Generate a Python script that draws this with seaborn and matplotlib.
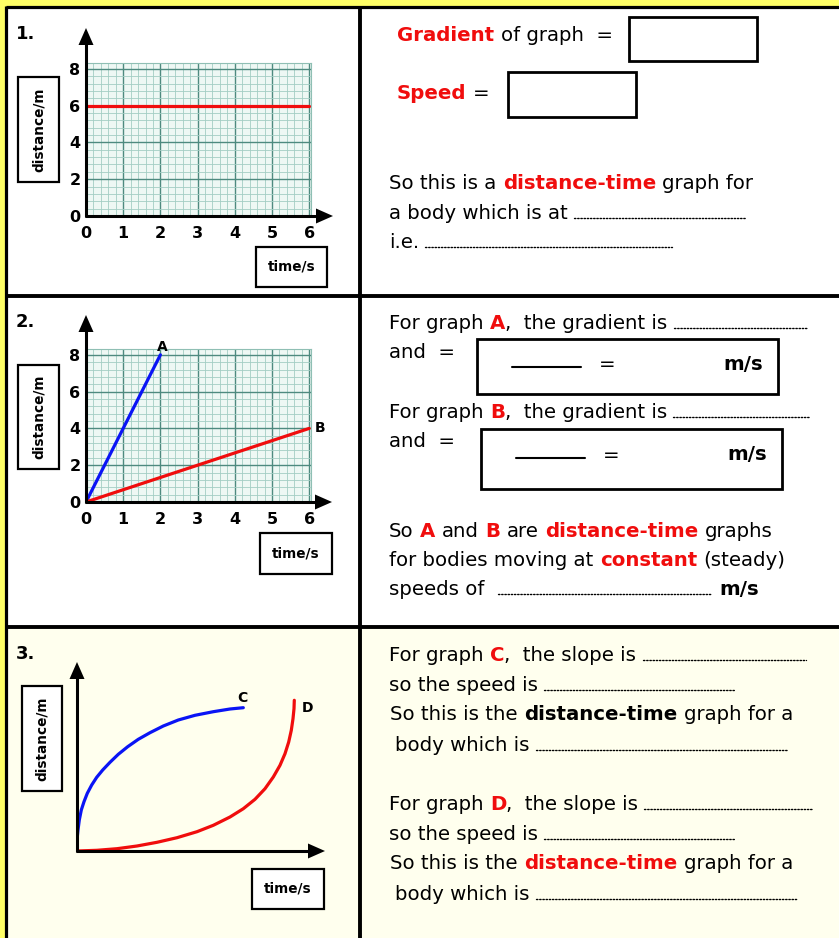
import matplotlib
matplotlib.use("Agg")
import matplotlib.pyplot as plt
import seaborn as sns
import numpy as np
from matplotlib.patches import Rectangle, Polygon

W, H = 839, 938

# ---- graph data -------------------------------------------------------
time_ticks = [0, 1, 2, 3, 4, 5, 6]
dist_ticks = [0, 2, 4, 6, 8]

# 1. stationary body
g1_time = [0, 6]
g1_dist = [6, 6]

# 2. two constant speeds
a_time = [0, 2]
a_dist = [0, 8]
b_time = [0, 6]
b_dist = [0, 4]

# 3. curved graphs (arbitrary units)
c_time = [0.0, 0.0, 0.1, 0.23, 0.43, 0.7, 1.03, 1.47, 1.97, 2.57, 3.3, 4.13, 5.07,
          6.13, 7.3, 8.63, 10.13, 11.8, 13.63, 15.3, 16.63]
c_dist = [0.0, 1.1, 2.1, 3.1, 4.1, 4.93, 5.77, 6.6, 7.37, 8.1, 8.87, 9.67, 10.43,
          11.17, 11.83, 12.5, 13.1, 13.57, 13.93, 14.2, 14.33]
d_time = [0.0, 2.0, 4.0, 6.0, 8.0, 10.0, 12.0, 13.63, 15.3, 16.63, 17.8, 18.8, 19.63,
          20.3, 20.8, 21.17, 21.43, 21.6, 21.7, 21.73]
d_dist = [0.0, 0.07, 0.23, 0.5, 0.87, 1.33, 1.93, 2.57, 3.4, 4.23, 5.17, 6.23, 7.4,
          8.57, 9.73, 10.9, 12.07, 13.23, 14.23, 15.07]

RED = "#F00D0D"
BLUE = "#0A14F5"
K = "black"

sns.set_style("white")
plt.rcParams["font.family"] = ["DejaVu Sans"]
plt.rcParams["text.color"] = K
plt.rcParams["xtick.color"] = K
plt.rcParams["ytick.color"] = K

fig = plt.figure(figsize=(W / 100, H / 100), dpi=100, facecolor="#FFFF66")
renderer = fig.canvas.get_renderer()

# background sheet in pixel coordinates
bg = fig.add_axes([0, 0, 1, 1])
bg.set_xlim(0, W)
bg.set_ylim(H, 0)
bg.axis("off")
bg.add_patch(Rectangle((6, 7), W + 20, H + 20, fc="white", ec="none", clip_on=False))
bg.add_patch(Rectangle((6, 627), W + 20, H, fc="#FFFFEE", ec="none", clip_on=False))


def paper_axes(ox, oy, sx, sy, xmax, ymax, paper=True):
    ax = fig.add_axes([ox / W, (H - oy) / H, xmax * sx / W, ymax * sy / H])
    ax.set_xlim(0, xmax)
    ax.set_ylim(0, ymax)
    if paper:
        ax.set_facecolor("#EEF8F4")
        ax.set_xticks(time_ticks)
        ax.set_xticklabels([str(t) for t in time_ticks], fontweight="bold", fontsize=11.5)
        ax.set_yticks(dist_ticks)
        ax.set_yticklabels([str(t) for t in dist_ticks], fontweight="bold", fontsize=11.5)
        ax.set_xticks(np.arange(0, xmax, 0.2), minor=True)
        ax.set_yticks(np.arange(0, ymax, 0.4), minor=True)
        ax.grid(which="major", color="#4E8A7F", lw=1.0)
        ax.grid(which="minor", color="#A3CEC4", lw=0.6)
        ax.tick_params(which="both", length=0, labelcolor=K)
        ax.tick_params(axis="x", pad=7)
        ax.tick_params(axis="y", pad=4)
        for s in ("left", "bottom"):
            ax.spines[s].set_visible(False)
        for s in ("top", "right"):
            ax.spines[s].set_color("#8FBFB4")
            ax.spines[s].set_linewidth(0.8)
    else:
        ax.axis("off")
    return ax


def line(ax, x, y, color):
    sns.lineplot(x=x, y=y, ax=ax, color=color, lw=2.3, sort=False, estimator=None,
                 solid_joinstyle="round", solid_capstyle="round")
    ax.set_xlabel("")
    ax.set_ylabel("")


# graph 1
ax1 = paper_axes(86, 216, 37.2, 18.4, 6.05, 8.3)
line(ax1, g1_time, g1_dist, RED)

# graph 2
ax2 = paper_axes(86, 502, 37.2, 18.4, 6.05, 8.3)
line(ax2, a_time, a_dist, BLUE)
line(ax2, b_time, b_dist, RED)
ax2.text(a_time[-1] + 0.05, a_dist[-1] + 0.05, "A", fontsize=10, fontweight="bold",
         ha="center", va="bottom", clip_on=False)
ax2.text(b_time[-1] + 0.15, b_dist[-1], "B", fontsize=10, fontweight="bold",
         ha="left", va="center", clip_on=False)

# graph 3
ax3 = paper_axes(77, 851, 10, 10, 23, 17, paper=False)
line(ax3, c_time, c_dist, BLUE)
line(ax3, d_time, d_dist, RED)
ax3.text(c_time[-1] - 0.1, c_dist[-1] + 0.3, "C", fontsize=10, fontweight="bold",
         ha="center", va="bottom")
ax3.text(d_time[-1] + 0.7, d_dist[-1] - 0.1, "D", fontsize=10, fontweight="bold",
         ha="left", va="top")

# overlay in pixel coordinates: table rules, arrows, boxes, text
top = fig.add_axes([0, 0, 1, 1])
top.set_xlim(0, W)
top.set_ylim(H, 0)
top.axis("off")

top.plot([6, W], [7.5, 7.5], color=K, lw=2.3, solid_capstyle="butt")
top.plot([6, 6], [6, H], color=K, lw=2.3, solid_capstyle="butt")
top.plot([360, 360], [6, H], color=K, lw=2.8, solid_capstyle="butt")
top.plot([6, W], [296, 296], color=K, lw=2.8, solid_capstyle="butt")
top.plot([6, W], [627, 627], color=K, lw=2.8, solid_capstyle="butt")


def axis_arrows(ox, oy, ytip, xtip):
    top.plot([ox, ox], [oy + 1.5, ytip + 14], color=K, lw=2.2, solid_capstyle="butt")
    top.plot([ox - 1.5, xtip - 14], [oy, oy], color=K, lw=2.2, solid_capstyle="butt")
    top.add_patch(Polygon([[ox, ytip], [ox - 7.5, ytip + 17], [ox + 7.5, ytip + 17]],
                          closed=True, fc=K, ec="none"))
    top.add_patch(Polygon([[xtip, oy], [xtip - 17, oy - 7.5], [xtip - 17, oy + 7.5]],
                          closed=True, fc=K, ec="none"))


axis_arrows(86, 216, 28, 333)
axis_arrows(86, 502, 315, 332)
axis_arrows(77, 851, 662, 325)


def label_box(x0, y0, x1, y1, txt, vertical=False):
    top.add_patch(Rectangle((x0, y0), x1 - x0, y1 - y0, fc="white", ec=K, lw=1.6))
    top.text((x0 + x1) / 2, (y0 + y1) / 2, txt, fontsize=9.8, fontweight="bold",
             color=K, ha="center", va="center", rotation=90 if vertical else 0)


label_box(18, 77, 59, 182, "distance/m", vertical=True)
label_box(256, 247, 327, 287, "time/s")
label_box(18, 365, 59, 469, "distance/m", vertical=True)
label_box(260, 533, 332, 574, "time/s")
label_box(22, 686, 62, 791, "distance/m", vertical=True)
label_box(252, 869, 324, 909, "time/s")

for num, y in (("1.", 34), ("2.", 322), ("3.", 654)):
    top.text(16, y, num, fontsize=13, fontweight="bold", color=K, ha="left", va="center")

FS = 14.2
SPACE = 6.5


def run(x, y, parts, size=FS):
    """Write coloured word runs one after another along a baseline."""
    for i, (txt, col, bold) in enumerate(parts):
        if i > 0 and not txt.startswith(","):
            x += SPACE
        t = top.text(x, y, txt, color=col, fontsize=size,
                     fontweight="bold" if bold else "normal", ha="left", va="baseline")
        x += t.get_window_extent(renderer).width
    return x


def dots(x0, x1, y):
    top.plot([x0, x1], [y - 1, y - 1], color=K, lw=1.0,
             linestyle=(0, (1, 1.3)), dash_capstyle="round")


def box(x0, y0, x1, y1, lw=2.0):
    top.add_patch(Rectangle((x0, y0), x1 - x0, y1 - y0, fc="white", ec=K, lw=lw))


# ---- section 1 ----
run(397, 41, [("Gradient", RED, True), ("of graph  =", K, False)])
box(629, 17, 757, 61)
run(397, 99, [("Speed", RED, True), ("=", K, False)])
box(508, 72, 636, 117)
run(389, 189, [("So this is a", K, False), ("distance-time", RED, True), ("graph for", K, False)])
x = run(389, 219, [("a body which is at", K, False)])
dots(x + 6, 746, 219)
x = run(389, 248, [("i.e.", K, False)])
dots(x + 6, 672, 248)

# ---- section 2 ----
for letter, yb, yand, (bx0, by0, bx1, by1), end in (
        ("A", 329, 358, (477, 339, 778, 394), 807),
        ("B", 418, 447, (481, 429, 782, 489), 810)):
    x = run(389, yb, [("For graph", K, False), (letter, RED, True), (",  the gradient is", K, False)])
    dots(x + 6, end, yb)
    run(389, yand, [("and  =", K, False)])
    box(bx0, by0, bx1, by1)
    ym = (by0 + by1) / 2 - 2 if letter == "A" else (by0 + by1) / 2 - 4
    top.plot([bx0 + 35, bx0 + 104], [ym + 3, ym + 3], color=K, lw=1.5)
    top.text(bx0 + 130, ym, "=", fontsize=FS, color=K, ha="center", va="center")
    top.text(bx1 - 15, ym, "m/s", fontsize=FS, fontweight="bold", color=K,
             ha="right", va="center")

run(389, 537, [("So", K, False), ("A", RED, True), ("and", K, False), ("B", RED, True),
               ("are", K, False), ("distance-time", RED, True), ("graphs", K, False)])
run(389, 566, [("for bodies moving at", K, False), ("constant", RED, True), ("(steady)", K, False)])
run(389, 595, [("speeds of", K, False)])
dots(498, 712, 595)
top.text(719, 595, "m/s", fontsize=FS, fontweight="bold", color=K, ha="left", va="baseline")

# ---- section 3 ----
for letter, y0, ends, dt_col in (("C", 661, (806, 734, 788), K),
                                 ("D", 810, (813, 734, 797), RED)):
    x = run(389, y0, [("For graph", K, False), (letter, RED, True), (",  the slope is", K, False)])
    dots(x + 6, ends[0], y0)
    x = run(389, y0 + 30, [("so the speed is", K, False)])
    dots(x + 6, ends[1], y0 + 30)
    run(390, y0 + 59, [("So this is the", K, False), ("distance-time", dt_col, True),
                       ("graph for a", K, False)])
    x = run(395, y0 + 90, [("body which is", K, False)])
    dots(x + 6, ends[2], y0 + 90)

fig.savefig("out.png", dpi=100, facecolor=fig.get_facecolor())
